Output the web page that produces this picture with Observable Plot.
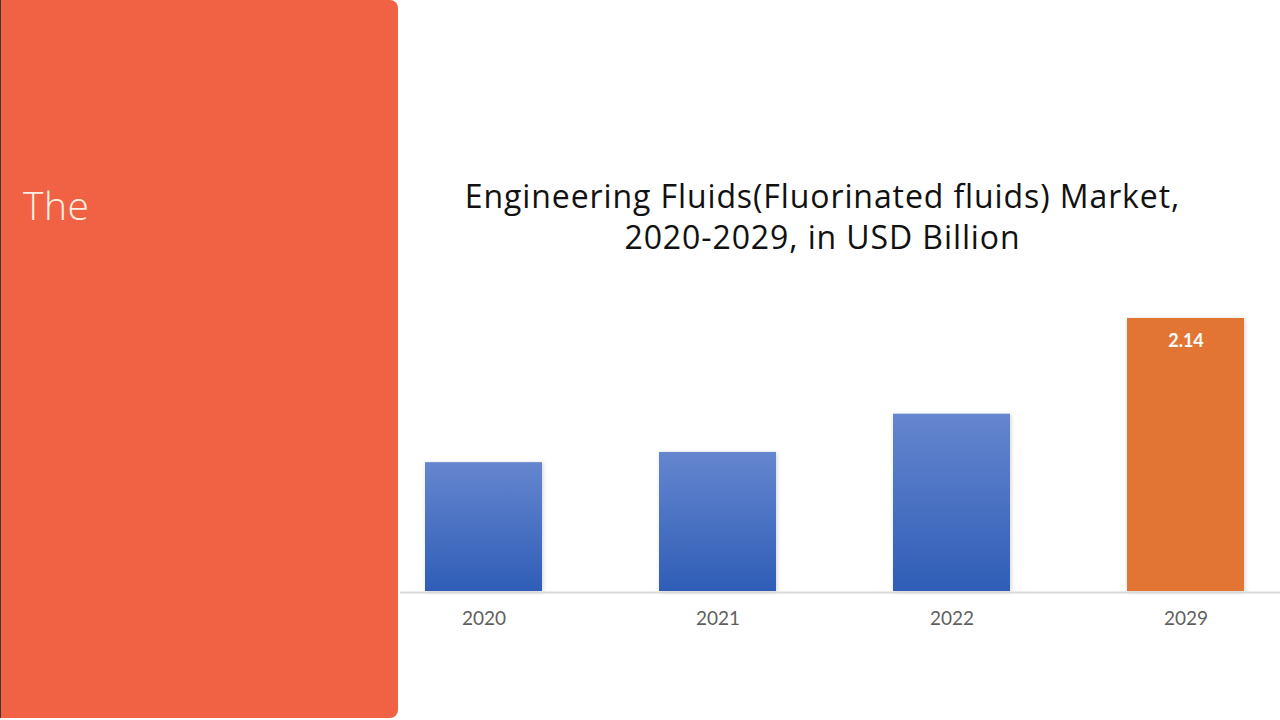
<!DOCTYPE html>
<html>
<head>
<meta charset="utf-8">
<script src="https://cdn.jsdelivr.net/npm/d3@7"></script>
<script src="https://cdn.jsdelivr.net/npm/@observablehq/plot@0.6"></script>
<style>
  html, body { margin: 0; padding: 0; background: #fff; }
  #page { position: relative; width: 1280px; height: 720px; overflow: hidden; background: #fff; }
  #panel { position: absolute; left: 0; top: 0; width: 397px; height: 718px; background: #F06243;
           border-radius: 0 8px 8px 0; border-left: 1px solid #3a3a3a; }
  #panel-text { position: absolute; left: 22px; top: 178px; color: #FDEEE4; font-family: "Open Sans", Lato, sans-serif;
                font-weight: 300; font-size: 39px; letter-spacing: 0.5px; }
  #title { position: absolute; left: 380px; width: 885px; top: 175px; text-align: center; color: #111;
           font-family: "Open Sans", Lato, sans-serif; font-size: 32px; line-height: 41px; letter-spacing: 0.9px; }
  #chart { position: absolute; left: 400px; top: 280px; }
  #chart svg rect { filter: drop-shadow(1px 1px 2px rgba(0,0,0,0.18)); }
</style>
</head>
<body>
<div id="page">
  <div id="panel"><div id="panel-text">The</div></div>
  <div id="title">Engineering Fluids(Fluorinated fluids) Market,<br>2020-2029, in USD Billion</div>
  <div id="chart"></div>
</div>
<script>
const years = ["2020", "2021", "2022", "2029"];
const values = [1.01, 1.09, 1.39, 2.14];
const labels = ["", "", "", "2.14"];
const fills = ["url(#blueGrad)", "url(#blueGrad)", "url(#blueGrad)", "#E27533"];

const data = years.map((y, i) => ({year: y, value: values[i], label: labels[i], fill: fills[i]}));

const defs = () => {
  const svg = d3.create("svg:g");
  const g = svg.append("defs").append("linearGradient")
    .attr("id", "blueGrad").attr("x1", 0).attr("y1", 0).attr("x2", 0).attr("y2", 1);
  g.append("stop").attr("offset", "0%").attr("stop-color", "#6586CF");
  g.append("stop").attr("offset", "100%").attr("stop-color", "#2F5DB6");
  return svg.node();
};

const chart = Plot.plot({
  width: 880,
  height: 370,
  marginLeft: 25,
  marginRight: 36,
  marginTop: 38,
  marginBottom: 59,
  style: { fontFamily: "Lato, 'Open Sans', sans-serif", background: "transparent", overflow: "visible" },
  x: { domain: years, paddingInner: 0.5, paddingOuter: 0, label: null },
  y: { domain: [0, d3.max(values)], axis: null },
  color: { type: "identity" },
  marks: [
    defs,
    Plot.barY(data, { x: "year", y: "value", fill: "fill" }),
    Plot.ruleY([0], { stroke: "#d9d9d9", strokeWidth: 2, insetLeft: -25, insetRight: -36, dy: 1 }),
    Plot.text(data.filter(d => d.label), { x: "year", y: "value", text: "label", dy: 23, fill: "#fff",
      fontWeight: "bold", fontSize: 18 }),
    Plot.axisX({ tickSize: 0, tickPadding: 20, fontSize: 19, color: "#5f5f5f", label: null })
  ]
});
document.getElementById("chart").appendChild(chart);
</script>
</body>
</html>
